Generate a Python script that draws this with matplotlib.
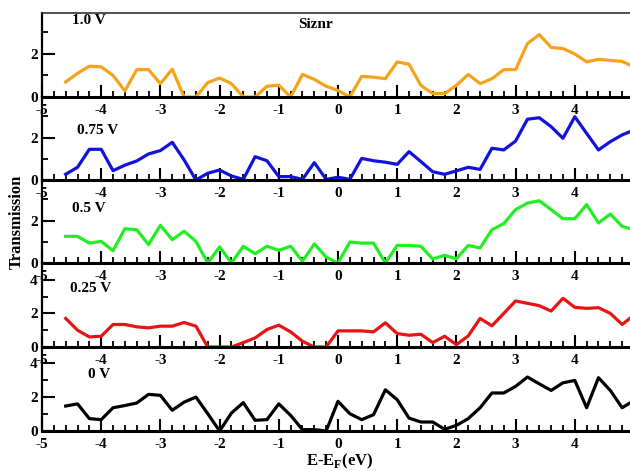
import matplotlib
matplotlib.use("Agg")
import matplotlib.pyplot as plt
from matplotlib.ticker import MultipleLocator, FixedLocator

plt.rcParams['font.family'] = 'Liberation Serif'
plt.rcParams['font.weight'] = 'bold'
plt.rcParams['mathtext.fontset'] = 'custom'
plt.rcParams['mathtext.rm'] = 'Liberation Serif:bold'
plt.rcParams['mathtext.bf'] = 'Liberation Serif:bold'

energy = [-4.6, -4.4, -4.2, -4.0, -3.8, -3.6, -3.4, -3.2, -3.0, -2.8, -2.6, -2.4,
          -2.2, -2.0, -1.8, -1.6, -1.4, -1.2, -1.0, -0.8, -0.6, -0.4, -0.2, 0.0,
          0.2, 0.4, 0.6, 0.8, 1.0, 1.2, 1.4, 1.6, 1.8, 2.0, 2.2, 2.4, 2.6, 2.8,
          3.0, 3.2, 3.4, 3.6, 3.8, 4.0, 4.2, 4.4, 4.6, 4.8, 5.0]

t_1v = [0.70, 1.10, 1.43, 1.40, 1.00, 0.28, 1.27, 1.27, 0.62, 1.29, 0.0, 0.0,
        0.67, 0.88, 0.62, 0.0, 0.0, 0.50, 0.55, 0.0, 1.05, 0.82, 0.50, 0.30,
        0.0, 0.96, 0.92, 0.85, 1.63, 1.52, 0.54, 0.16, 0.16, 0.54, 1.05, 0.62,
        0.85, 1.27, 1.27, 2.48, 2.90, 2.30, 2.25, 2.00, 1.63, 1.75, 1.70, 1.65, 1.40]

t_075v = [0.27, 0.60, 1.45, 1.45, 0.44, 0.70, 0.90, 1.23, 1.39, 1.78, 0.95, 0.0,
          0.32, 0.47, 0.19, 0.03, 1.10, 0.91, 0.16, 0.16, 0.03, 0.82, 0.03, 0.13,
          0.03, 1.02, 0.91, 0.84, 0.74, 1.34, 0.87, 0.39, 0.27, 0.43, 0.60, 0.50,
          1.50, 1.42, 1.84, 2.87, 2.94, 2.52, 1.97, 2.99, 2.20, 1.42, 1.81, 2.13, 2.36]

t_05v = [1.26, 1.26, 0.94, 1.02, 0.58, 1.62, 1.57, 0.87, 1.78, 1.10, 1.50, 1.02,
         0.0, 0.76, 0.0, 0.79, 0.44, 0.79, 0.60, 0.79, 0.08, 0.90, 0.28, 0.0,
         0.99, 0.94, 0.94, 0.0, 0.83, 0.83, 0.79, 0.19, 0.36, 0.20, 0.83, 0.71,
         1.57, 1.86, 2.52, 2.83, 2.94, 2.52, 2.09, 2.09, 2.76, 1.89, 2.31, 1.73, 1.57]

t_025v = [1.70, 1.00, 0.60, 0.64, 1.34, 1.34, 1.20, 1.14, 1.24, 1.24, 1.46, 1.24,
          0.0, 0.0, 0.0, 0.26, 0.54, 1.04, 1.30, 0.90, 0.34, 0.0, 0.0, 0.96,
          0.96, 0.96, 0.90, 1.44, 0.80, 0.70, 0.76, 0.26, 0.64, 0.14, 0.66, 1.70,
          1.26, 2.00, 2.74, 2.60, 2.46, 2.14, 2.90, 2.36, 2.30, 2.34, 2.00, 1.34, 1.90]

t_0v = [1.47, 1.60, 0.73, 0.67, 1.37, 1.50, 1.65, 2.16, 2.10, 1.22, 1.70, 2.00,
        1.02, 0.0, 1.06, 1.67, 0.63, 0.67, 1.60, 0.92, 0.08, 0.08, 0.0, 1.75,
        1.02, 0.67, 0.96, 2.43, 1.84, 0.76, 0.53, 0.53, 0.10, 0.33, 0.73, 1.37,
        2.24, 2.24, 2.63, 3.18, 2.78, 2.39, 2.84, 2.98, 1.37, 3.14, 2.39, 1.37, 1.80]

series = [t_1v, t_075v, t_05v, t_025v, t_0v]
labels = ['1.0 V', '0.75 V', '0.5 V', '0.25 V', '0 V']
colors = ['#f5a31c', '#1212dd', '#22ee22', '#e81414', '#000000']
ytops = [3.9, 3.92, 3.92, 5.0, 4.95]

W, H = 630, 471
fig = plt.figure(figsize=(6.3, 4.71), dpi=100)

# panel edges in pixels (top, bottom)
edges = [(13, 97), (97, 180), (180, 263), (263, 347), (347, 431)]
label_pos = [(72, 21), (77, 131), (72, 209), (70, 288), (88, 374)]

for i, (top, bot) in enumerate(edges):
    ax = fig.add_axes([42 / W, 1 - bot / H, (634 - 42) / W, (bot - top) / H])
    ax.set_facecolor('none')
    ax.plot(energy, series[i], color=colors[i], lw=2.3)
    ax.set_xlim(-5, 5)
    ax.set_ylim(0, ytops[i])
    ax.xaxis.set_major_locator(MultipleLocator(1))
    ax.xaxis.set_minor_locator(MultipleLocator(0.2))
    if ytops[i] > 4.5:
        ax.yaxis.set_major_locator(FixedLocator([0, 2, 4]))
    else:
        ax.yaxis.set_major_locator(FixedLocator([0, 2]))
    ax.yaxis.set_minor_locator(FixedLocator([1, 3]))
    ax.tick_params(which='major', direction='in', length=9, width=1.5,
                   labelsize=11, pad=5)
    ax.tick_params(which='minor', direction='in', length=4.5, width=1.3)
    ax.tick_params(axis='y', which='major', pad=3)
    for t in ax.get_xticklabels() + ax.get_yticklabels():
        t.set_fontweight('bold')
    ax.xaxis.set_major_formatter(plt.FuncFormatter(lambda v, p: '%d' % round(v)))
    ax.spines['right'].set_visible(False)
    ax.spines['bottom'].set_linewidth(2.2)
    ax.spines['left'].set_linewidth(1.6)
    if i == 0:
        ax.spines['top'].set_linewidth(1.2)
        ax.spines['top'].set_color('#333333')
    else:
        ax.spines['top'].set_visible(False)
    lx, ly = label_pos[i]
    fig.text(lx / W, 1 - ly / H, labels[i], fontsize=11, fontweight='bold',
             ha='left', va='center')

fig.text(316 / W, 1 - 24 / H, 'Siznr', fontsize=11, fontweight='bold',
         ha='center', va='center')
fig.text(17 / W, 1 - 222 / H, 'Transmission', fontsize=12, fontweight='bold',
         rotation=90, ha='center', va='center')
fig.text(340 / W, 1 - 461 / H, r'E-E$_{\mathrm{F}}$(eV)', fontsize=12,
         fontweight='bold', ha='center', va='center')

fig.savefig('out.png', dpi=100)
